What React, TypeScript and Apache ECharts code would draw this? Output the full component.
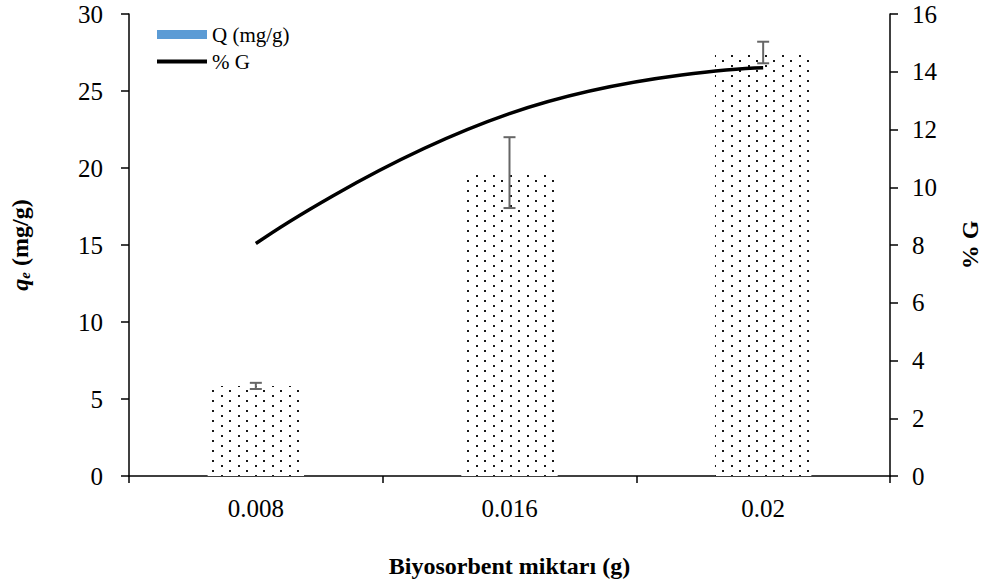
import React, { useEffect, useRef } from "react";
import * as echarts from "echarts";

const categories = ["0.008", "0.016", "0.02"];
const qValues = [5.85, 19.7, 27.5];
const qErrors = [0.2, 2.3, 0.7];
const gValues = [8.05, 12.55, 14.14];

const FONT = "'Liberation Serif', 'Times New Roman', serif";

export default function App() {
  const ref = useRef<HTMLDivElement>(null);
  useEffect(() => {
    if (!ref.current) return;
    const chart = echarts.init(ref.current, null, { renderer: "svg" });
    const errData = qValues.map((v, i) => [i, v - qErrors[i], v + qErrors[i]]);
    chart.setOption({
      animation: false,
      textStyle: { fontFamily: FONT, color: "#000" },
      grid: { left: 121, right: 86, top: 14, bottom: 111 },
      legend: {
        orient: "vertical",
        left: 155,
        top: 24,
        padding: 0,
        itemWidth: 50,
        itemHeight: 9,
        itemGap: 6,
        textStyle: { fontFamily: FONT, fontSize: 21, color: "#000" },
        data: [
          { name: "Q (mg/g)", icon: "rect", itemStyle: { color: "#5B9BD5", decal: "none" } },
          { name: "% G", itemStyle: { opacity: 0 }, lineStyle: { color: "#000", width: 4 } },
        ],
      },
      xAxis: {
        type: "category",
        data: categories,
        boundaryGap: true,
        axisLine: { lineStyle: { color: "#000", width: 1.5 } },
        axisTick: { show: true, length: 7, lineStyle: { color: "#000", width: 1.5 } },
        axisLabel: { fontFamily: FONT, fontSize: 25, color: "#000", margin: 20 },
        name: "Biyosorbent miktarı (g)",
        nameLocation: "middle",
        nameGap: 78,
        nameTextStyle: { fontFamily: FONT, fontSize: 24, fontWeight: "bold", color: "#000" },
      },
      yAxis: [
        {
          type: "value",
          min: 0,
          max: 30,
          interval: 5,
          splitLine: { show: false },
          axisLine: { show: true, lineStyle: { color: "#000", width: 1.5 } },
          axisTick: { show: true, length: 8, lineStyle: { color: "#000", width: 1.5 } },
          axisLabel: { fontFamily: FONT, fontSize: 25, color: "#000", margin: 26 },
          name: "{q|q}{e|e}{n| (mg/g)}",
          nameLocation: "middle",
          nameRotate: 90,
          nameGap: 97,
          nameTextStyle: {
            fontFamily: FONT,
            fontSize: 24,
            fontWeight: "bold",
            color: "#000",
            rich: {
              q: { fontFamily: FONT, fontSize: 24, fontWeight: "bold", fontStyle: "italic", color: "#000" },
              e: { fontFamily: FONT, fontSize: 15, fontWeight: "bold", fontStyle: "italic", color: "#000", verticalAlign: "bottom", padding: [8, 0, 0, 0] },
              n: { fontFamily: FONT, fontSize: 24, fontWeight: "bold", color: "#000" },
            },
          },
        },
        {
          type: "value",
          min: 0,
          max: 16,
          interval: 2,
          position: "right",
          splitLine: { show: false },
          axisLine: { show: true, lineStyle: { color: "#000", width: 1.5 } },
          axisTick: { show: true, length: 8, lineStyle: { color: "#000", width: 1.5 } },
          axisLabel: { fontFamily: FONT, fontSize: 25, color: "#000", margin: 22 },
          name: "% G",
          nameLocation: "middle",
          nameRotate: 90,
          nameGap: 68,
          nameTextStyle: { fontFamily: FONT, fontSize: 24, fontWeight: "bold", color: "#000" },
        },
      ],
      series: [
        {
          name: "Q (mg/g)",
          type: "bar",
          data: qValues,
          barWidth: "38%",
          itemStyle: {
            color: "#ffffff",
            decal: {
              symbol: "rect",
              symbolSize: 0.9,
              color: "#000",
              dashArrayX: [[2, 15], [0, 8, 2, 7]],
              dashArrayY: [2, 3],
            },
          },
        },
        {
          name: "err",
          type: "custom",
          data: errData,
          z: 5,
          renderItem: (params: any, api: any) => {
            const i = api.value(0);
            const lo = api.coord([i, api.value(1)]);
            const hi = api.coord([i, api.value(2)]);
            const x = lo[0];
            const cap = 6;
            const style = { stroke: "#666", lineWidth: 2 };
            return {
              type: "group",
              children: [
                { type: "line", shape: { x1: x, y1: lo[1], x2: x, y2: hi[1] }, style },
                { type: "line", shape: { x1: x - cap, y1: lo[1], x2: x + cap, y2: lo[1] }, style },
                { type: "line", shape: { x1: x - cap, y1: hi[1], x2: x + cap, y2: hi[1] }, style },
              ],
            };
          },
        },
        {
          name: "% G",
          type: "line",
          yAxisIndex: 1,
          data: gValues,
          smooth: true,
          symbol: "none",
          z: 6,
          lineStyle: { color: "#000", width: 3.5 },
          itemStyle: { color: "#000" },
        },
      ],
    });
    return () => chart.dispose();
  }, []);
  return <div ref={ref} style={{ width: 990, height: 587, position: "absolute", left: 0, top: 0 }} />;
}
